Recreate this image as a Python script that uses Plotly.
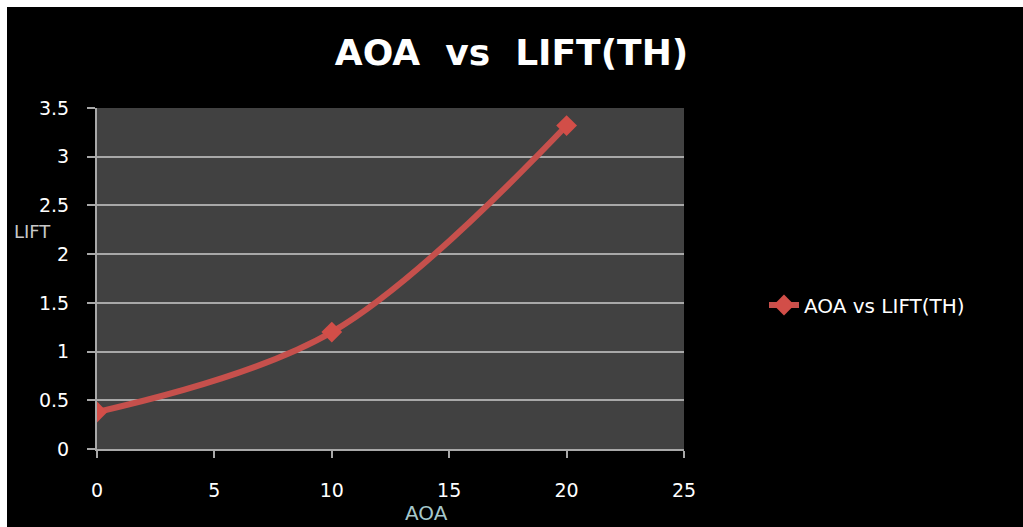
import plotly.graph_objects as go

# Angle of attack vs theoretical lift
aoa = [0, 10, 20]
lift = [0.38, 1.2, 3.32]
series_name = "AOA vs LIFT(TH)"
x_ticks = [0, 5, 10, 15, 20, 25]
y_ticks = [0, 0.5, 1, 1.5, 2, 2.5, 3, 3.5]

W, H = 1023, 527
L, R, T, B = 97, 339, 108, 78
pw, ph = W - L - R, H - T - B


def px_x(p):
    return (p - L) / pw


def px_y(p):
    return (H - B - p) / ph


fig = go.Figure()
fig.add_trace(go.Scatter(
    x=aoa, y=lift, name=series_name,
    mode="lines+markers",
    line=dict(color="rgb(198,80,76)", width=6, shape="spline", smoothing=1.0),
    marker=dict(symbol="diamond", size=16, color="rgb(210,78,72)"),
))

grey = "#a8a8a8"
tick_font = dict(family="DejaVu Sans", size=19, color="white")
fig.update_layout(
    width=W, height=H,
    margin=dict(l=L, r=R, t=T, b=B),
    paper_bgcolor="black",
    plot_bgcolor="#414141",
    showlegend=True,
    title=dict(text="<b>AOA  vs  LIFT(TH)</b>", x=0.5, xanchor="center",
               y=1 - 52 / H, yanchor="middle",
               font=dict(family="DejaVu Sans", size=36, color="white")),
    legend=dict(x=px_x(764), y=px_y(305), xanchor="left", yanchor="middle",
                bgcolor="rgba(0,0,0,0)",
                font=dict(family="DejaVu Sans", size=20, color="white")),
    xaxis=dict(range=[0, 25], tickvals=x_ticks, showgrid=False, zeroline=False,
               showline=True, linecolor=grey, linewidth=2,
               ticks="outside", ticklen=7, tickcolor=grey, tickwidth=2,
               tickfont=tick_font, ticklabelstandoff=16),
    yaxis=dict(range=[0, 3.5], tickvals=y_ticks, ticktext=[str(v) for v in y_ticks],
               showgrid=True, gridcolor=grey, gridwidth=2, zeroline=False,
               showline=True, linecolor=grey, linewidth=2,
               ticks="outside", ticklen=8, tickcolor=grey, tickwidth=2,
               tickfont=tick_font, ticklabelstandoff=14),
    annotations=[
        dict(text="LIFT", xref="paper", yref="paper", x=px_x(12), y=px_y(231),
             xanchor="left", yanchor="middle", showarrow=False,
             font=dict(family="DejaVu Sans", size=18, color="#c8c8c8")),
        dict(text="AOA", xref="paper", yref="paper", x=px_x(426), y=px_y(513),
             xanchor="center", yanchor="middle", showarrow=False,
             font=dict(family="DejaVu Sans", size=20, color="#a6c8cc")),
    ],
    shapes=[
        # white frame strips along top and left edges
        dict(type="rect", xref="paper", yref="paper", layer="above",
             x0=px_x(0), x1=px_x(W), y0=px_y(0), y1=px_y(7),
             fillcolor="white", line=dict(width=0)),
        dict(type="rect", xref="paper", yref="paper", layer="above",
             x0=px_x(0), x1=px_x(7), y0=px_y(0), y1=px_y(H),
             fillcolor="white", line=dict(width=0)),
    ],
)

fig.write_html("out.html")
